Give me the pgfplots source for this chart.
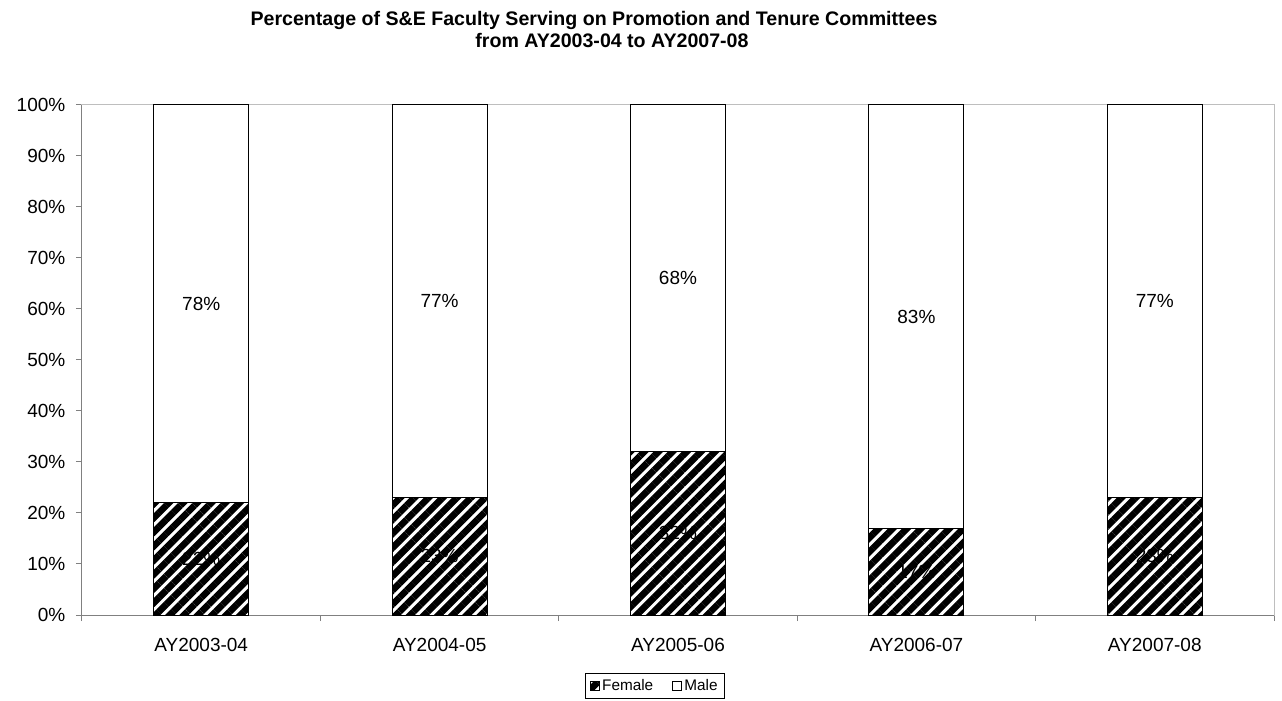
\documentclass[border=0pt]{standalone}
\usepackage{pgfplots}
\pgfplotsset{compat=1.18}
\usepackage{pgfplotstable}
\usepackage{fontspec}
\setmainfont{Liberation Sans}
\usetikzlibrary{patterns.meta}
\definecolor{axgray}{RGB}{128,128,128}
\definecolor{lightax}{RGB}{190,190,190}

\pgfplotstableread{
x female male
0 22 78
1 23 77
2 32 68
3 17 83
4 23 77
}\datatable

\pgfplotstableread{
x fpos flab mpos mlab
0 11   22 61   78
1 11.5 23 61.5 77
2 16   32 66   68
3 8.5  17 58.5 83
4 11.5 23 61.5 77
}\labtable

\pgfplotsset{/pgf/number format/assume math mode=true}

\begin{document}
\begin{tikzpicture}
\useasboundingbox (0,0) rectangle (961.5pt,525pt);
\node[font=\bfseries\fontsize{14.7}{16}\selectfont] at (445.5pt,510pt)
  {Percentage of S\&E Faculty Serving on Promotion and Tenure Committees};
\node[font=\bfseries\fontsize{14.7}{16}\selectfont] at (459pt,494.5pt)
  {from AY2003-04 to AY2007-08};

\begin{axis}[
  at={(61.5pt,63.75pt)}, anchor=south west,
  scale only axis, width=894pt, height=382.5pt,
  ybar stacked, bar width=71.25pt,
  xmin=-0.5, xmax=4.5, ymin=0, ymax=100,
  clip=false,
  axis line style={draw=lightax, line width=0.75pt},
  xtick={-0.5,0.5,1.5,2.5,3.5,4.5}, xticklabels={,,,,,},
  extra x ticks={0,1,2,3,4},
  extra x tick labels={AY2003-04,AY2004-05,AY2005-06,AY2006-07,AY2007-08},
  extra x tick style={major tick length=0pt, xticklabel style={yshift=-14.25pt}},
  ytick={0,10,...,100},
  yticklabel={\pgfmathprintnumber{\tick}\%},
  yticklabel style={xshift=-4.5pt},
  xtick pos=bottom, ytick pos=left,
  tick align=outside, major tick length=4.5pt,
  tick style={draw=axgray, line width=0.75pt},
  ticklabel style={font=\fontsize{14.25}{16}\selectfont},
  legend columns=2,
  legend style={draw=black, line width=0.6pt, at={(axis description cs:0.4807,-0.1392)}, anchor=center,
    font=\fontsize{11.5}{12.5}\selectfont, inner xsep=3pt, inner ysep=2.5pt,
    /tikz/every even column/.append style={column sep=12pt}},
  legend image code/.code={\draw[#1, line width=0.5pt] (0pt,-3.4pt) rectangle (6.8pt,3.4pt);},
]
\addplot[draw=black, line width=0.75pt, pattern={Lines[angle=45,distance=7.5pt,line width=5pt]}, pattern color=black]
  table[x=x, y=female] {\datatable};
\addlegendentry{Female}
\addplot[draw=black, line width=0.75pt, fill=white]
  table[x=x, y=male] {\datatable};
\addlegendentry{Male}
\draw[axgray, line width=0.75pt] (rel axis cs:0,1) -- (rel axis cs:0,0) -- (rel axis cs:1,0);
\end{axis}

\begin{axis}[
  at={(61.5pt,63.75pt)}, anchor=south west,
  scale only axis, width=894pt, height=382.5pt,
  xmin=-0.5, xmax=4.5, ymin=0, ymax=100,
  hide axis, clip=false,
  every node near coord/.append style={anchor=center, font=\fontsize{14.25}{16}\selectfont, text=black},
]
\addplot[draw=none, mark=none, nodes near coords={\pgfmathprintnumber{\pgfplotspointmeta}\%}, point meta=explicit]
  table[x=x, y=fpos, meta=flab] {\labtable};
\addplot[draw=none, mark=none, nodes near coords={\pgfmathprintnumber{\pgfplotspointmeta}\%}, point meta=explicit]
  table[x=x, y=mpos, meta=mlab] {\labtable};
\end{axis}
\end{tikzpicture}
\end{document}
